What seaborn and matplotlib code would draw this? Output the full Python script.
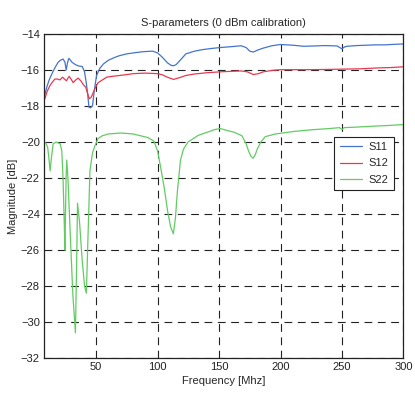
import matplotlib
matplotlib.use("Agg")
import matplotlib.pyplot as plt
import numpy as np
import pandas as pd
import seaborn as sns

# S11 magnitude [dB] versus frequency [MHz]
s11_freq = [7.7, 10, 12, 14.7, 17, 19, 21, 23, 24.5, 25.6, 26.6, 27.7, 29, 30.4, 32, 33.7,
            36, 38.6, 40.5, 41.9, 43, 44.1, 45.5, 47, 48.5, 50.3, 53, 55.7, 60, 65, 69, 75,
            80, 88, 96, 100, 104, 108, 111, 113, 115, 118, 123, 130, 137, 144, 150.6, 160,
            168, 172, 175, 178, 181, 186, 193, 200, 210, 219, 228, 236, 246, 248, 250, 252,
            254, 262, 270, 277, 285, 293, 300]
s11_mag = [-17.5, -16.9, -16.5, -16.1, -15.8, -15.57, -15.45, -15.39, -15.55, -16.0, -15.6,
           -15.35, -15.45, -15.57, -15.65, -15.72, -15.78, -15.8, -16.1, -16.7, -17.3, -18.07,
           -18.1, -17.98, -17.1, -16.3, -15.9, -15.67, -15.45, -15.3, -15.2, -15.1, -15.05,
           -14.98, -14.95, -15.05, -15.3, -15.6, -15.74, -15.76, -15.7, -15.48, -15.1, -14.95,
           -14.86, -14.8, -14.75, -14.7, -14.65, -14.75, -14.95, -15.0, -14.9, -14.78, -14.65,
           -14.58, -14.62, -14.68, -14.66, -14.64, -14.66, -14.74, -14.82, -14.72, -14.68,
           -14.64, -14.62, -14.6, -14.6, -14.57, -14.55]

# S12 magnitude [dB]
s12_freq = [8.2, 10, 12.3, 14.5, 16.4, 18.5, 20.4, 22.6, 24.2, 25.8, 27, 28, 29.5, 31.3, 33.3,
            35.3, 37.5, 39.4, 41.5, 43, 44.3, 46, 47.6, 49.5, 51.6, 55, 58.4, 63, 69.3, 75,
            80.1, 90, 100, 104, 108, 113, 118, 123, 130, 140, 150.6, 160, 168, 173, 178, 182,
            186, 193, 200, 210, 219, 235, 250, 265, 280, 290, 300]
s12_mag = [-17.6, -17.2, -16.87, -16.65, -16.5, -16.5, -16.55, -16.4, -16.5, -16.6, -16.45,
           -16.35, -16.5, -16.7, -16.55, -16.45, -16.6, -16.8, -16.95, -17.3, -17.6, -17.5,
           -17.25, -16.95, -16.7, -16.55, -16.4, -16.35, -16.3, -16.25, -16.2, -16.17, -16.2,
           -16.27, -16.4, -16.52, -16.42, -16.3, -16.22, -16.15, -16.1, -16.07, -16.05, -16.1,
           -16.25, -16.2, -16.1, -16.02, -15.98, -15.98, -15.98, -15.97, -15.95, -15.93,
           -15.88, -15.86, -15.82]

# S22 magnitude [dB]
s22_freq = [7.7, 9, 10.5, 11.5, 12.5, 13.5, 15, 17.4, 20.7, 22, 23, 24, 24.5, 25, 25.5, 26,
            27, 28.8, 31, 33.1, 34, 34.8, 36.5, 38.5, 40.5, 42, 43, 44.9, 47, 49, 51.6, 55,
            60, 70, 80, 86, 92, 97, 100, 102.7, 105.5, 108, 110.5, 112.8, 114.5, 116, 118.6,
            121, 124.7, 133, 141, 147, 151, 156, 162, 168.6, 172, 174, 176, 177.7, 179.5, 181,
            184, 187.6, 196, 210, 225, 240, 248, 250, 252, 262, 275, 288, 300]
s22_mag = [-20.0, -20.05, -20.3, -20.9, -21.6, -20.9, -20.1, -20.0, -20.1, -20.5, -22.0, -24.5,
           -26.0, -24.0, -22.0, -21.0, -22.0, -25.0, -28.5, -30.6, -27.0, -23.4, -24.5, -26.5,
           -28.0, -28.4, -26.0, -21.6, -20.6, -20.2, -19.8, -19.65, -19.55, -19.5, -19.55,
           -19.65, -19.75, -19.95, -20.5, -21.5, -22.6, -23.8, -24.7, -25.1, -24.2, -22.8,
           -21.0, -20.4, -20.0, -19.63, -19.44, -19.3, -19.25, -19.35, -19.45, -19.65, -20.1,
           -20.5, -20.8, -20.9, -20.7, -20.4, -20.0, -19.7, -19.55, -19.42, -19.32, -19.25,
           -19.2, -19.3, -19.2, -19.17, -19.12, -19.08, -19.03]

series_names = ["S11", "S12", "S22"]
series_colors = ["#4474d0", "#e8384f", "#62cc62"]

x_ticks = [50, 100, 150, 200, 250, 300]
y_ticks = list(range(-32, -13, 2))

frames = []
for name, f, m in zip(series_names, [s11_freq, s12_freq, s22_freq],
                      [s11_mag, s12_mag, s22_mag]):
    frames.append(pd.DataFrame({"freq": f, "mag": m, "param": name}))
data = pd.concat(frames, ignore_index=True)

sns.set_style("white")
plt.rcParams["font.family"] = ["Liberation Sans", "DejaVu Sans"]

fig = plt.figure(figsize=(4.15, 3.96), dpi=100)
ax = fig.add_axes([0.106, 0.096, 0.866, 0.818])

sns.lineplot(data=data, x="freq", y="mag", hue="param", hue_order=series_names,
             palette=dict(zip(series_names, series_colors)), estimator=None,
             linewidth=0.9, ax=ax)

ax.set_xlim(7.5, 300)
ax.set_ylim(-32, -14)
ax.set_xticks(x_ticks)
ax.set_yticks(y_ticks)
ax.grid(True, color="#222222", linestyle=(0, (7, 5)), linewidth=0.8)
ax.set_axisbelow(True)
for sp in ax.spines.values():
    sp.set_color("#222222")
    sp.set_linewidth(0.9)
ax.tick_params(direction="in", length=3, width=0.8, labelsize=8, colors="#222222", pad=3)

ax.set_title("S-parameters (0 dBm calibration)", fontsize=8, pad=6)
ax.set_xlabel("Frequency [Mhz]", fontsize=8, labelpad=3)
ax.set_ylabel("Magnitude [dB]", fontsize=8, labelpad=2)

leg = ax.legend(loc="upper right", bbox_to_anchor=(0.99, 0.70), fontsize=8,
                frameon=True, fancybox=False, framealpha=1, edgecolor="#222222",
                handlelength=2.0, borderpad=0.5, labelspacing=0.55, handletextpad=0.6)
leg.get_frame().set_linewidth(0.8)

fig.savefig("out.png", dpi=100)
